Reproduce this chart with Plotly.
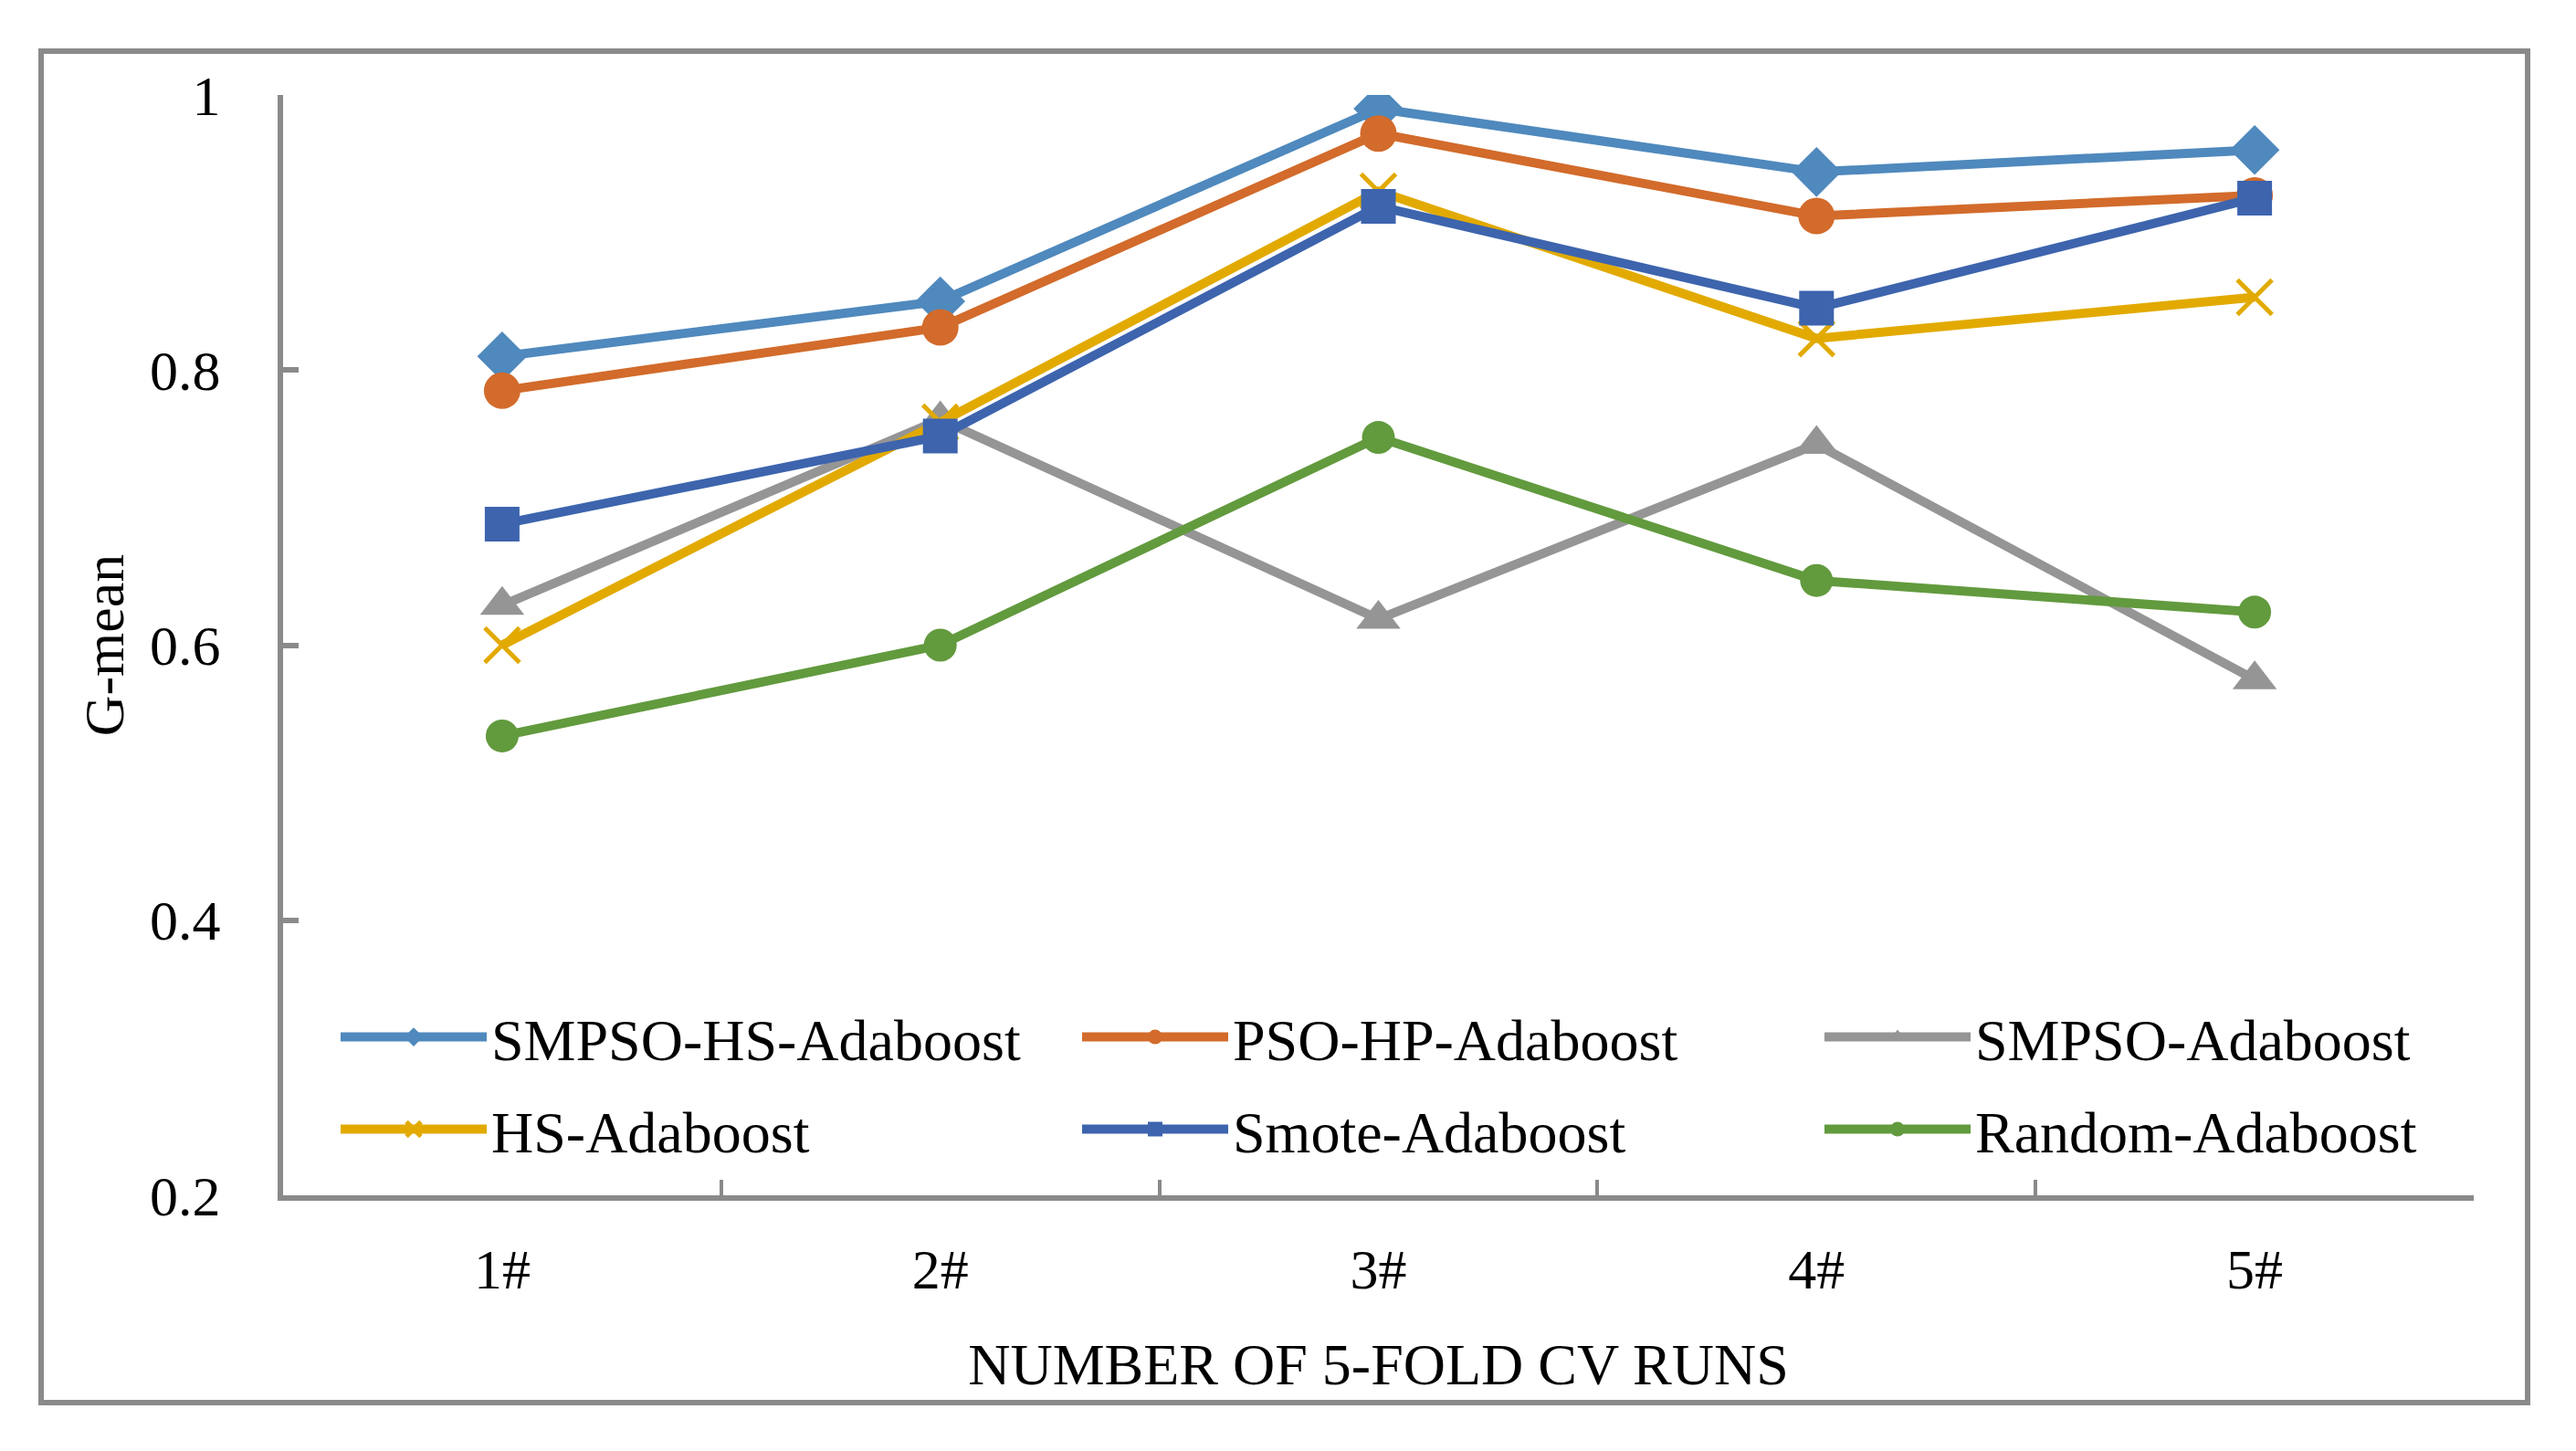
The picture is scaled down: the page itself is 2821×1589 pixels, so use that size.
import plotly.graph_objects as go

categories = ["1#", "2#", "3#", "4#", "5#"]
series_names = ["SMPSO-HS-Adaboost", "PSO-HP-Adaboost", "SMPSO-Adaboost",
                "HS-Adaboost", "Smote-Adaboost", "Random-Adaboost"]
smpso_hs = [0.810, 0.850, 0.990, 0.944, 0.960]
pso_hp = [0.785, 0.831, 0.972, 0.912, 0.927]
smpso = [0.629, 0.764, 0.619, 0.746, 0.575]
hs = [0.600, 0.762, 0.930, 0.823, 0.853]
smote = [0.688, 0.752, 0.919, 0.845, 0.925]
random_ada = [0.534, 0.600, 0.751, 0.647, 0.624]
y_ticks = [0.2, 0.4, 0.6, 0.8, 1.0]
y_tick_labels = ["0.2", "0.4", "0.6", "0.8", "1"]

values = [smpso_hs, pso_hp, smpso, hs, smote, random_ada]
colors = ["#4F89BD", "#D26B2B", "#959595", "#E2AA00", "#3D64AD", "#629A3E"]
symbols = ["diamond", "circle", "triangle-up", "x-thin", "square", "circle"]
sizes = [42, 40, 42, 38, 38, 36]

FONT = "Liberation Serif, Times New Roman, serif"
W, H = 2821, 1589
L, R, T, B = 310, 112, 104, 280
PW, PH = W - L - R, H - T - B

fig = go.Figure()
legend_ids = ["legend", "legend2", "legend3", "legend4", "legend5", "legend6"]
for i, (name, vals) in enumerate(zip(series_names, values)):
    marker = dict(symbol=symbols[i], size=sizes[i], color=colors[i])
    if symbols[i] == "x-thin":
        marker["line"] = dict(color=colors[i], width=5)
    fig.add_trace(go.Scatter(
        x=categories, y=vals, name=name, mode="lines+markers",
        line=dict(color=colors[i], width=10),
        marker=marker, legend=legend_ids[i],
    ))

# legend layout: 3 columns x 2 rows
col_x = [368, 1180, 1993]
row_y = [1136, 1237]
layout_legends = {}
for i, lid in enumerate(legend_ids):
    r, c = divmod(i, 3)
    layout_legends[lid] = dict(
        x=(col_x[c] - L) / PW, y=(H - B - row_y[r]) / PH,
        xanchor="left", yanchor="middle",
        font=dict(family=FONT, size=64, color="black"),
        bgcolor="rgba(0,0,0,0)", borderwidth=0, itemwidth=160,
    )

axis_col = "#8A8A8A"
fig.update_layout(
    width=W, height=H,
    margin=dict(l=L, r=R, t=T, b=B),
    paper_bgcolor="white", plot_bgcolor="white",
    font=dict(family=FONT, size=62, color="black"),
    showlegend=True,
    xaxis=dict(
        type="category", range=[-0.5, 4.5], tickson="boundaries",
        ticks="inside", ticklen=17, tickwidth=4, tickcolor=axis_col,
        showline=True, linecolor=axis_col, linewidth=6,
        showgrid=False, zeroline=False,
        tickfont=dict(family=FONT, size=62, color="black"),
        ticklabelstandoff=22,
        title=dict(text="NUMBER OF 5-FOLD CV RUNS",
                   font=dict(family=FONT, size=64, color="black"), standoff=50),
    ),
    yaxis=dict(
        range=[0.2, 1.0], tickvals=y_ticks, ticktext=y_tick_labels,
        ticks="inside", ticklen=17, tickwidth=6, tickcolor=axis_col,
        showline=True, linecolor=axis_col, linewidth=6,
        showgrid=False, zeroline=False,
        tickfont=dict(family=FONT, size=62, color="black"),
        ticklabelstandoff=50,
        title=dict(text="G-mean", font=dict(family=FONT, size=62, color="black"),
                   standoff=10),
    ),
    **layout_legends,
)

# outer chart border
fig.add_shape(type="rect", xref="paper", yref="paper",
              x0=(45 - L) / PW, x1=(2768 - L) / PW,
              y0=(H - B - 1536) / PH, y1=(H - B - 56) / PH,
              line=dict(color=axis_col, width=6), fillcolor="rgba(0,0,0,0)",
              layer="below")

fig.write_html("out.html", config={"displayModeBar": False},
               post_script="document.body.style.margin='0';document.body.style.overflow='hidden';")
